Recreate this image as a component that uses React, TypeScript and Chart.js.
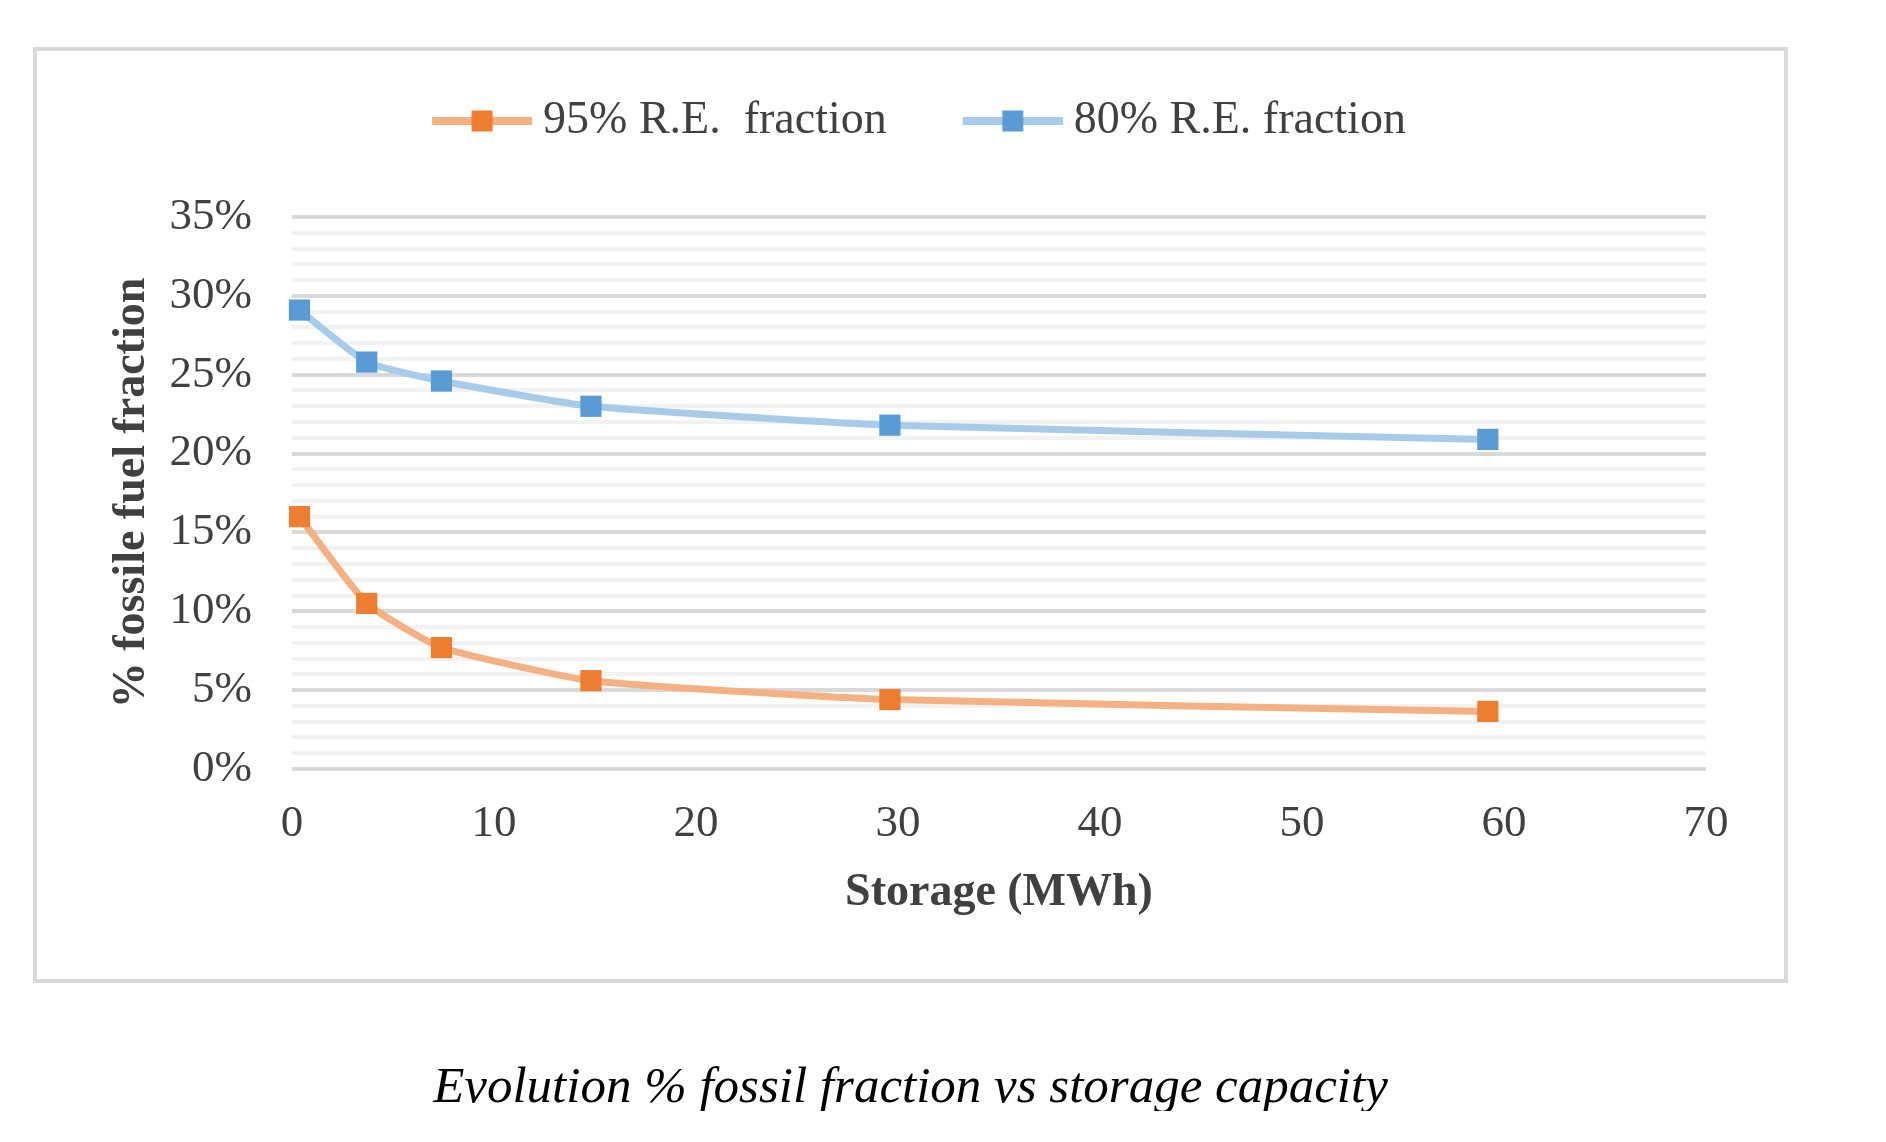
import { useEffect, useRef } from 'react';
import { Chart, registerables } from 'chart.js';

Chart.register(...registerables);

const storageMWh = [0.37, 3.7, 7.4, 14.8, 29.6, 59.2];
const fossil95 = [16.0, 10.5, 7.7, 5.6, 4.4, 3.65];
const fossil80 = [29.1, 25.8, 24.6, 23.0, 21.8, 20.9];
const seriesNames = ['95% R.E.  fraction', '80% R.E. fraction'];
const xRange = [0, 70, 10];
const yRange = [0, 35, 1];
const yLabelEvery = 5;

const FONT = '"Liberation Serif", "Times New Roman", serif';
const TEXT = '#404040';

function legendIcon(line: string, mark: string) {
  const c = document.createElement('canvas');
  c.width = 178;
  c.height = 24;
  const g = c.getContext('2d')!;
  g.fillStyle = line;
  g.fillRect(78, 8, 100, 8);
  g.fillStyle = mark;
  g.fillRect(117.5, 1.5, 21, 21);
  return c;
}

// extra room under the legend
const legendGap = {
  id: 'legendGap',
  afterInit(chart: any) {
    const legend = chart.legend;
    if (!legend) return;
    const fit = legend.fit;
    legend.fit = function () {
      fit.call(this);
      this.height += 63;
    };
  },
};

function FossilChart() {
  const canvasRef = useRef<HTMLCanvasElement>(null);
  const chartRef = useRef<Chart | null>(null);

  useEffect(() => {
    if (!canvasRef.current) return;
    if (chartRef.current) chartRef.current.destroy();

    const icons = [legendIcon('#F4B183', '#ED7D31'), legendIcon('#A9CBEA', '#5B9BD5')];

    chartRef.current = new Chart(canvasRef.current, {
      type: 'line',
      data: {
        datasets: [
          {
            label: seriesNames[0],
            data: storageMWh.map((x, i) => ({ x, y: fossil95[i] })),
            borderColor: '#F4B183',
            backgroundColor: '#ED7D31',
            borderWidth: 7,
            pointStyle: 'rect',
            pointRadius: 15,
            pointBorderWidth: 0,
            pointBackgroundColor: '#ED7D31',
            tension: 0.15,
            clip: false,
          },
          {
            label: seriesNames[1],
            data: storageMWh.map((x, i) => ({ x, y: fossil80[i] })),
            borderColor: '#A9CBEA',
            backgroundColor: '#5B9BD5',
            borderWidth: 7,
            pointStyle: 'rect',
            pointRadius: 15,
            pointBorderWidth: 0,
            pointBackgroundColor: '#5B9BD5',
            tension: 0.15,
            clip: false,
          },
        ],
      },
      options: {
        animation: false,
        responsive: true,
        maintainAspectRatio: false,
        layout: { padding: { left: 29, right: 78, top: 37, bottom: 58 } },
        plugins: {
          tooltip: { enabled: false },
          legend: {
            position: 'top',
            labels: {
              usePointStyle: true,
              pointStyleWidth: 154,
              padding: 10,
              color: TEXT,
              font: { family: FONT, size: 46 },
              generateLabels: (chart: any) =>
                Chart.defaults.plugins.legend.labels
                  .generateLabels(chart)
                  .map((item: any, i: number) => ({ ...item, pointStyle: icons[i] })),
            },
          },
        },
        scales: {
          x: {
            type: 'linear',
            min: xRange[0],
            max: xRange[1],
            grid: { display: false },
            border: { display: false },
            ticks: {
              stepSize: xRange[2],
              padding: 20,
              color: TEXT,
              font: { family: FONT, size: 45 },
            },
            title: {
              display: true,
              text: 'Storage (MWh)',
              color: TEXT,
              padding: 0,
              font: { family: FONT, size: 46, weight: 'bold' },
            },
            afterFit: (scale: any) => {
              scale.height = 152;
            },
          },
          y: {
            min: yRange[0],
            max: yRange[1],
            border: { display: false },
            grid: {
              lineWidth: 4,
              drawTicks: false,
              color: (ctx: any) =>
                ctx.tick && ctx.tick.value % yLabelEvery === 0 ? '#D9D9D9' : '#F2F2F2',
            },
            ticks: {
              stepSize: yRange[2],
              autoSkip: false,
              padding: 40,
              color: TEXT,
              font: { family: FONT, size: 45 },
              callback: (v: any) => (Number(v) % yLabelEvery === 0 ? v + '%' : ''),
            },
            title: {
              display: true,
              text: '% fossile fuel fraction',
              color: TEXT,
              padding: { top: 39, bottom: 0 },
              font: { family: FONT, size: 46, weight: 'bold' },
            },
            afterFit: (scale: any) => {
              scale.width = 226;
            },
          },
        },
      },
      plugins: [legendGap],
    });

    return () => chartRef.current?.destroy();
  }, []);

  return (
    <div
      style={{
        marginLeft: 25,
        width: 1747,
        height: 928,
        border: '4px solid #D9D9D9',
        position: 'relative',
        background: '#fff',
      }}
    >
      <canvas ref={canvasRef} />
    </div>
  );
}

export default function App() {
  return (
    <div style={{ paddingTop: 39, fontFamily: FONT }}>
      <FossilChart />
      <div
        style={{
          marginLeft: 25,
          width: 1755,
          marginTop: 77,
          textAlign: 'center',
          fontStyle: 'italic',
          fontSize: 51,
          lineHeight: 1,
          color: '#000',
        }}
      >
        Evolution % fossil fraction vs storage capacity
      </div>
    </div>
  );
}
